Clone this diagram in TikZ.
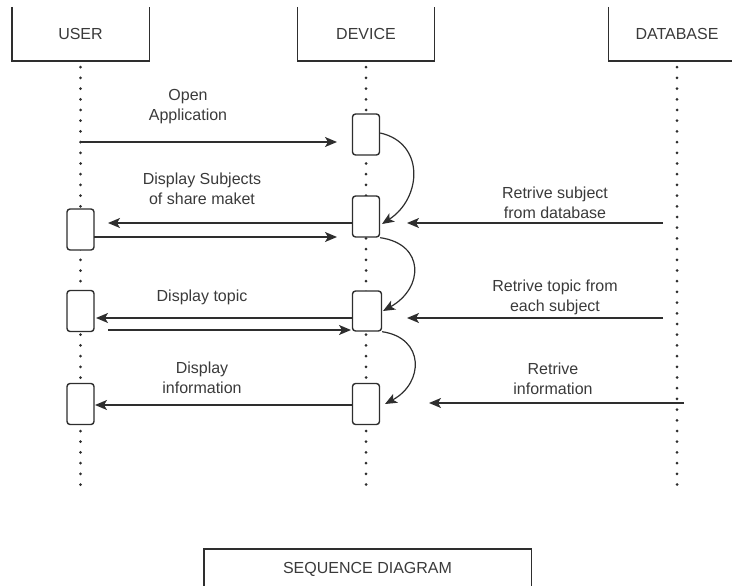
\documentclass[tikz,border=0pt]{standalone}
\usepackage{fontspec}
\setmainfont{Liberation Sans}
\usetikzlibrary{arrows.meta,positioning,calc}
\definecolor{ink}{HTML}{2E2E2E}
\definecolor{txt}{HTML}{3A3A3A}
\begin{document}
\begin{tikzpicture}[x=1pt,y=-1pt,
  every node/.style={font=\fontsize{16}{20}\selectfont, text=txt},
  head/.style={minimum width=137pt, minimum height=54pt, inner sep=0pt},
  act/.style={draw=ink, line width=1.4pt, rounded corners=3pt, fill=white, minimum width=27pt, minimum height=41pt, inner sep=0pt},
  lifeline/.style={draw=ink, line width=3pt, line cap=round, dash pattern=on 0pt off 10.7pt, shorten <=6pt},
  msg/.style={draw=ink, line width=1.5pt, -{Stealth[length=12pt,width=10pt,inset=3pt]}},
  self/.style={draw=ink, line width=1.2pt, -{Stealth[length=12pt,width=10pt,inset=3pt]}},
  lbl/.style={align=center, inner sep=0pt},
  boxline/.style={draw=ink, line width=1.4pt}
  ]
\useasboundingbox (0,0) rectangle (732,586);
% header boxes
\node[head] (user) at (80.5,34) {USER};
\node[head] (device) at (366,34) {DEVICE};
\node[head] (db) at (677,34) {DATABASE};
\foreach \n in {user,device,db}{
  \draw[boxline] (\n.north west) -- (\n.south west) -- (\n.south east) -- (\n.north east);
}
% lifeline ends
\coordinate (uEnd) at (80.5,495);
\coordinate (dEnd) at (366,495);
\coordinate (bEnd) at (677,495);
\draw[lifeline] (user.south) -- (uEnd);
\draw[lifeline] (device.south) -- (dEnd);
\draw[lifeline] (db.south) -- (bEnd);
% activation boxes
\node[act] (d1) at (366,134.5) {};
\node[act] (d2) at (366,216.5) {};
\node[act, minimum width=29pt, minimum height=40pt] (d3) at (367,311) {};
\node[act] (d4) at (366,404) {};
\node[act] (u1) at (80.5,229.5) {};
\node[act] (u2) at (80.5,311) {};
\node[act] (u3) at (80.5,404) {};
% message end points
\coordinate (m1s) at (80.5,142);   \coordinate (m1e) at (337,142);
\coordinate (m2s) at (352.5,223);  \coordinate (m2e) at (108,223);
\coordinate (m3s) at (94,237);     \coordinate (m3e) at (337,237);
\coordinate (m4s) at (663,223);    \coordinate (m4e) at (407,223);
\coordinate (m5s) at (352.5,318);  \coordinate (m5e) at (96,318);
\coordinate (m6s) at (108,330);    \coordinate (m6e) at (351,330);
\coordinate (m7s) at (663,318);    \coordinate (m7e) at (407,318);
\coordinate (m8s) at (352.5,405);  \coordinate (m8e) at (95,405);
\coordinate (m9s) at (684,403);    \coordinate (m9e) at (429,403);
\draw[msg] (m1s) -- (m1e);
\draw[msg] (m2s) -- (m2e);
\draw[msg] (m3s) -- (m3e);
\draw[msg] (m4s) -- (m4e);
\draw[msg] (m5s) -- (m5e);
\draw[msg] (m6s) -- (m6e);
\draw[msg] (m7s) -- (m7e);
\draw[msg] (m8s) -- (m8e);
\draw[msg] (m9s) -- (m9e);
% self curves
\coordinate (c1e) at (382,224);
\coordinate (c2e) at (383,311);
\coordinate (c3e) at (385,404);
\draw[self] (d1.east |- 0,133) .. controls (425,143) and (422,198) .. (c1e);
\draw[self] (d2.south east) .. controls (425,244) and (424,288) .. (c2e);
\draw[self] (d3.south east) .. controls (425,338) and (424,383) .. (c3e);
% labels
\node[lbl] (l1) at (188,107) {Open\\Application};
\node[lbl] (l2) at (202,188.5) {Display Subjects\\of share maket};
\node[lbl] (l3) at (555,203) {Retrive subject\\from database};
\node[lbl] (l4) at (202,297) {Display topic};
\node[lbl] (l5) at (555,297.5) {Retrive topic from\\each subject};
\node[lbl] (l6) at (202,378) {Display\\information};
\node[lbl] (l7) at (553,379) {Retrive\\information};
% title box
\node[minimum width=327pt, minimum height=41pt, inner sep=0pt] (title) at (367.5,569.5) {SEQUENCE DIAGRAM};
\draw[boxline] (title.south west) -- (title.north west) -- (title.north east) -- (title.south east);
\end{tikzpicture}
\end{document}
